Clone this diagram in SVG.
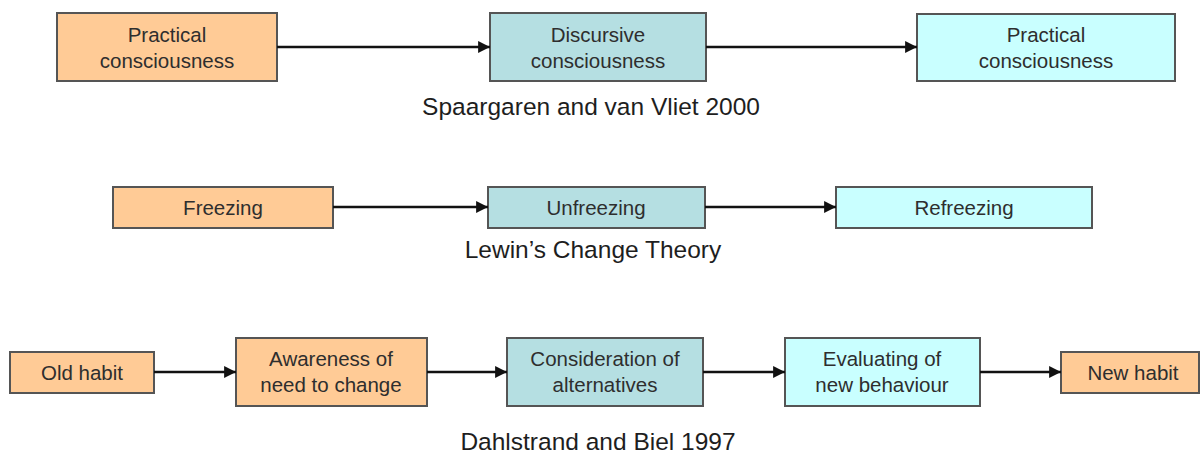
<svg xmlns="http://www.w3.org/2000/svg" width="1201" height="456" viewBox="0 0 1201 456">
  <defs>
    <marker id="arrow" viewBox="0 0 10 10" refX="10" refY="5" markerWidth="4.6" markerHeight="4.4" markerUnits="strokeWidth" orient="auto">
      <path d="M0,0 L10,5 L0,10 z" fill="#111"/>
    </marker>
  </defs>
  <style>
    rect { stroke: #555; stroke-width: 2; }
    .orange { fill: #FFCB96; }
    .teal { fill: #B5DFE2; }
    .cyan { fill: #C9FFFF; }
    text { font-family: "Liberation Sans", Arial, sans-serif; text-anchor: middle; fill: #2e2e2e; }
    .lbl { font-size: 20.5px; }
    .title { font-size: 24.5px; fill: #1e1e1e; }
    #connectors line { stroke: #111; stroke-width: 2.7; marker-end: url(#arrow); }
  </style>
  <rect width="1201" height="456" fill="#fff" style="stroke:none"/>

  <!-- Spaargaren and van Vliet -->
  <g id="n-practical-1">
    <rect class="orange" x="57" y="13" width="220" height="68"/>
    <text class="lbl" x="167" y="42">Practical</text>
    <text class="lbl" x="167" y="68">consciousness</text>
  </g>
  <g id="n-discursive">
    <rect class="teal" x="490" y="13" width="216" height="68"/>
    <text class="lbl" x="598" y="42">Discursive</text>
    <text class="lbl" x="598" y="68">consciousness</text>
  </g>
  <g id="n-practical-2">
    <rect class="cyan" x="917" y="14" width="258" height="67"/>
    <text class="lbl" x="1046" y="42">Practical</text>
    <text class="lbl" x="1046" y="68">consciousness</text>
  </g>
  <text class="title" x="591" y="115">Spaargaren and van Vliet 2000</text>

  <!-- Lewin -->
  <g id="n-freezing">
    <rect class="orange" x="113" y="187" width="220" height="41"/>
    <text class="lbl" x="223" y="215">Freezing</text>
  </g>
  <g id="n-unfreezing">
    <rect class="teal" x="488" y="187" width="217" height="41"/>
    <text class="lbl" x="596" y="215">Unfreezing</text>
  </g>
  <g id="n-refreezing">
    <rect class="cyan" x="836" y="187" width="256" height="41"/>
    <text class="lbl" x="964" y="215">Refreezing</text>
  </g>
  <text class="title" x="593" y="258">Lewin’s Change Theory</text>

  <!-- Dahlstrand and Biel -->
  <g id="n-old-habit">
    <rect class="orange" x="10" y="352" width="144" height="41"/>
    <text class="lbl" x="82" y="380">Old habit</text>
  </g>
  <g id="n-awareness">
    <rect class="orange" x="236" y="338" width="191" height="68"/>
    <text class="lbl" x="331" y="366">Awareness of</text>
    <text class="lbl" x="331" y="392">need to change</text>
  </g>
  <g id="n-consideration">
    <rect class="teal" x="507" y="338" width="196" height="68"/>
    <text class="lbl" x="605" y="366">Consideration of</text>
    <text class="lbl" x="605" y="392">alternatives</text>
  </g>
  <g id="n-evaluating">
    <rect class="cyan" x="785" y="338" width="195" height="68"/>
    <text class="lbl" x="882" y="366">Evaluating of</text>
    <text class="lbl" x="882" y="392">new behaviour</text>
  </g>
  <g id="n-new-habit">
    <rect class="orange" x="1061" y="352" width="138" height="41"/>
    <text class="lbl" x="1133" y="380">New habit</text>
  </g>
  <text class="title" x="598" y="450">Dahlstrand and Biel 1997</text>

  <g id="connectors">
    <line x1="277" y1="47" x2="490" y2="47"/>
    <line x1="706" y1="47" x2="917" y2="47"/>
    <line x1="333" y1="207" x2="488" y2="207"/>
    <line x1="705" y1="207" x2="836" y2="207"/>
    <line x1="154" y1="372" x2="236" y2="372"/>
    <line x1="427" y1="372" x2="507" y2="372"/>
    <line x1="703" y1="372" x2="785" y2="372"/>
    <line x1="980" y1="372" x2="1061" y2="372"/>
  </g>
</svg>
